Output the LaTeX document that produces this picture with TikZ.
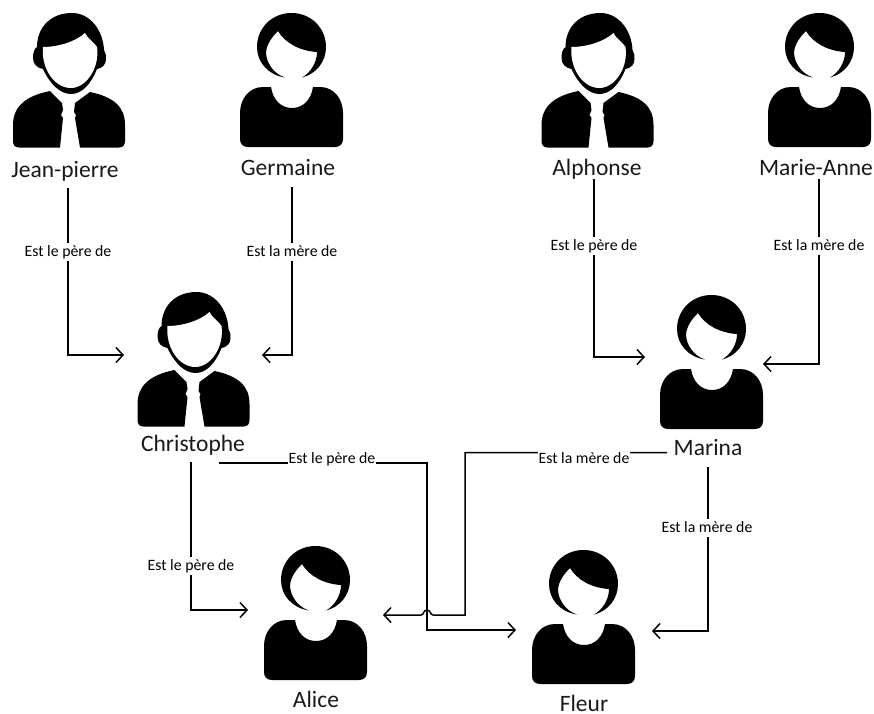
\documentclass[tikz,border=0pt]{standalone}
\usepackage{fontspec}
\setmainfont{Carlito}
\usetikzlibrary{arrows.meta}
\tikzset{
  x=1pt,y=-1pt,
  who/.style={anchor=base,inner sep=0pt,font=\fontsize{23.5}{24}\selectfont,text=black!90},
  rel/.style={anchor=base,fill=white,inner xsep=1pt,inner ysep=0pt,text height=13pt,text depth=5pt,font=\fontsize{15.8}{16}\selectfont,text=black},
  link/.style={draw=black,line width=1.5pt,-{Straight Barb[length=7pt,width=15pt,line width=1.5pt]}},
  man/.pic={
    % hair, ears and head ring
    \fill[black] (33,58) .. controls (33,53) and (34,49) .. (37,47)
      .. controls (37,28) and (50,13) .. (72,13)
      .. controls (90,13) and (103,30) .. (104,50)
      .. controls (106,53) and (106,56) .. (106,59)
      .. controls (106,64) and (103,68) .. (97,69)
      .. controls (91,84) and (82,94) .. (71,94)
      .. controls (60,94) and (50,84) .. (43,69)
      .. controls (37,68) and (33,64) .. (33,58) -- cycle;
    % face
    \fill[white] (43,47) .. controls (58,47) and (75,42) .. (85,33)
      .. controls (87,38) and (94,42) .. (97,47)
      .. controls (100,68) and (86,88) .. (71,88)
      .. controls (54,88) and (41,68) .. (43,47) -- cycle;
    % left half of the jacket
    \fill[black] (50,91) -- (62,103) -- (63,110) -- (61,115) -- (63,118) -- (60,147.5)
      -- (19,147.5) .. controls (15,147.5) and (13,145) .. (13,141)
      -- (13,125) .. controls (13,107) and (25,96) .. (50,91) -- cycle;
    % right half of the jacket
    \fill[black] (90,92) -- (75,103) -- (74,112) -- (76,115) -- (75,118) -- (80,147.5)
      -- (119,147.5) .. controls (123,147.5) and (125,145) .. (125,141)
      -- (125,125) .. controls (125,107) and (114,97) .. (90,92) -- cycle;
  },
  woman/.pic={
    % hair
    \fill[black] (285,77.5) .. controls (268,75) and (257,62) .. (257,47)
      .. controls (257,28) and (272,13) .. (291.5,13)
      .. controls (311,13) and (326,28) .. (326,47)
      .. controls (326,62) and (316,74) .. (302,77.5)
      .. controls (310,73) and (317,63) .. (317,52)
      .. controls (300,51) and (285,43) .. (278,31)
      .. controls (273,36) and (267,43) .. (266,52)
      .. controls (266,63) and (274,74) .. (285,77.5) -- cycle;
    % body
    \fill[black] (271,87) .. controls (273,100) and (281,108) .. (292,108)
      .. controls (303,108) and (311,100) .. (313,87)
      -- (320,87) .. controls (334,87) and (343,99) .. (343,113)
      -- (343,139) .. controls (343,144) and (340,147) .. (335,147)
      -- (248,147) .. controls (243,147) and (240,144) .. (240,139)
      -- (240,113) .. controls (240,99) and (249,87) .. (263,87) -- cycle;
  }
}
\begin{document}
\begin{tikzpicture}
\useasboundingbox (0,0) rectangle (874,713);
% people
\pic at (0,0) {man};
\pic at (0,0) {woman};
\pic at (528.5,0) {man};
\pic at (528,0) {woman};
\pic at (124.5,279) {man};
\pic at (420,282) {woman};
\pic at (24,533) {woman};
\pic at (292,537) {woman};
% names
\node[who] (jp) at (65,177) {Jean-pierre};
\node[who] (ge) at (288,175) {Germaine};
\node[who] (al) at (597,175) {Alphonse};
\node[who] (ma) at (816,175) {Marie-Anne};
\node[who] (ch) at (193,451) {Christophe};
\node[who] (mr) at (708,455) {Marina};
\node[who] (ac) at (316,707) {Alice};
\node[who] (fl) at (584,711) {Fleur};
% targets
\coordinate (tch1) at (124,355);
\coordinate (tch2) at (262,355);
\coordinate (tmr1) at (645,357);
\coordinate (tmr2) at (763,364);
\coordinate (tac1) at (248,610);
\coordinate (tfl1) at (516,630);
\coordinate (tfl2) at (652,631);
\coordinate (tac2) at (383,615);
% start points
\coordinate (sjp) at (68,188);
\coordinate (sge) at (292,187);
\coordinate (sal) at (594,179);
\coordinate (sma) at (819,179);
\coordinate (sch1) at (191,462);
\coordinate (sch2) at (219,463);
\coordinate (smr1) at (667,452.5);
\coordinate (smr2) at (708,467);
% connectors
\draw[link] (sjp) |- (tch1);
\draw[link] (sge) |- (tch2);
\draw[link] (sal) |- (tmr1);
\draw[link] (sma) |- (tmr2);
\draw[link] (sch1) |- (tac1);
\draw[link] (smr2) |- (tfl2);
\draw[link] (sch2) -- (427,463) |- (tfl1);
\draw[link] (smr1) -- (465,452.5) -- (465,615) -- (433,615)
   .. controls (430,615) and (431,610) .. (427,610)
   .. controls (423,610) and (424,615) .. (421,615) -- (tac2);
% labels
\node[rel] (l1) at (68,256) {Est le père de};
\node[rel] (l2) at (292,256) {Est la mère de};
\node[rel] (l3) at (594,250) {Est le père de};
\node[rel] (l4) at (819,250) {Est la mère de};
\node[rel] (l5) at (191,570) {Est le père de};
\node[rel] (l6) at (332,463) {Est le père de};
\node[rel] (l7) at (584,463) {Est la mère de};
\node[rel] (l8) at (707,532) {Est la mère de};
\end{tikzpicture}
\end{document}
